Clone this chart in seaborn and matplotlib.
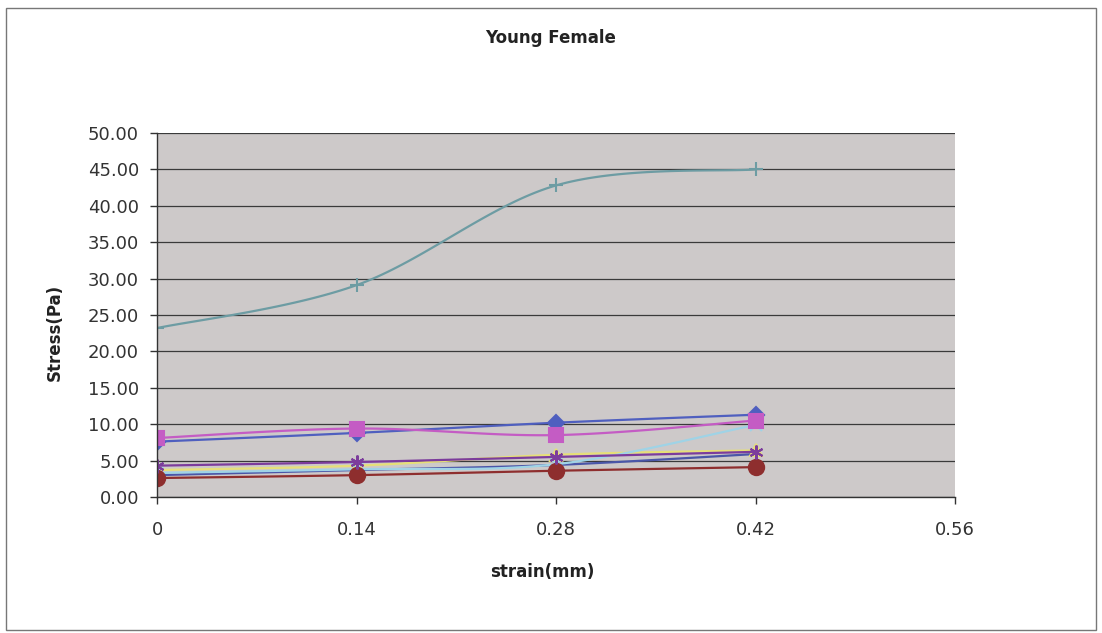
import numpy as np
import pandas as pd
import matplotlib
matplotlib.use("Agg")
import matplotlib.pyplot as plt
from matplotlib.patches import Rectangle
import seaborn as sns

# Data
strain = [0, 0.14, 0.28, 0.42]
s1_blue = [7.6, 8.8, 10.2, 11.3]
s2_magenta = [8.1, 9.4, 8.5, 10.5]
s3_yellow = [3.7, 4.3, 5.8, 6.4]
s4_cyan = [3.3, 3.8, 4.5, 9.9]
s5_purple = [4.3, 4.8, 5.5, 6.2]
s6_red = [2.6, 3.0, 3.6, 4.1]
s7_teal = [23.2, 29.1, 42.8, 45.0]
s8_navy = [3.0, 3.7, 4.4, 5.9]

x_ticks = [0, 0.14, 0.28, 0.42, 0.56]
y_ticks = [0, 5, 10, 15, 20, 25, 30, 35, 40, 45, 50]

series = [
    ("s8", s8_navy, "#4a56a8", None, 7),
    ("s3", s3_yellow, "#e6df78", "^", 8),
    ("s4", s4_cyan, "#9fd3e6", "x", 8),
    ("s6", s6_red, "#8e2e2e", "o", 11),
    ("s5", s5_purple, "#7c3c9c", (6, 2, 0), 10),
    ("s1", s1_blue, "#4f5fbf", "D", 8),
    ("s2", s2_magenta, "#c45cc4", "s", 10),
    ("s7", s7_teal, "#6d9ca3", "+", 10),
]


def smooth(xs, ys, n=40):
    # Catmull-Rom style curve, like Excel's "smoothed line"
    xs = np.asarray(xs, float)
    ys = np.asarray(ys, float)
    px = np.concatenate([[xs[0]], xs, [xs[-1]]])
    py = np.concatenate([[ys[0]], ys, [ys[-1]]])
    ox, oy = [], []
    for i in range(1, len(px) - 2):
        t = np.linspace(0, 1, n)
        for arr, out in ((px, ox), (py, oy)):
            p0, p1, p2, p3 = arr[i - 1], arr[i], arr[i + 1], arr[i + 2]
            c1 = p1 + (p2 - p0) / 6
            c2 = p2 - (p3 - p1) / 6
            out.extend((1 - t) ** 3 * p1 + 3 * (1 - t) ** 2 * t * c1
                       + 3 * (1 - t) * t ** 2 * c2 + t ** 3 * p2)
    return ox, oy


sns.set_style("white")
plt.rcParams['font.family'] = ['DejaVu Sans']

fig = plt.figure(figsize=(11.02, 6.33), dpi=100)
ax = fig.add_axes([0.1425, 0.2149, 0.7242, 0.575])
ax.set_facecolor("#cdc9c9")

for name, vals, col, mk, ms in series:
    cx, cy = smooth(strain, vals)
    sns.lineplot(x=cx, y=cy, ax=ax, color=col, linewidth=1.6, sort=False,
                 estimator=None, legend=False)
    if mk is not None:
        kw = dict(markerfacecolor=col, markeredgecolor=col)
        ax.plot(strain, vals, linestyle="none", marker=mk, markersize=ms,
                markeredgewidth=1.5, **kw)

ax.set_xlim(0, 0.56)
ax.set_ylim(0, 50)
ax.set_xticks(x_ticks)
ax.set_xticklabels(["0", "0.14", "0.28", "0.42", "0.56"])
ax.set_yticks(y_ticks)
ax.set_yticklabels([f"{v:.2f}" for v in y_ticks])
ax.yaxis.grid(True, color="#3a3a3a", linewidth=0.9)
ax.xaxis.grid(False)
ax.set_axisbelow(True)

for s in ["top", "right"]:
    ax.spines[s].set_visible(False)
for s in ["left", "bottom"]:
    ax.spines[s].set_color("#333333")
    ax.spines[s].set_linewidth(1.0)

ax.tick_params(axis="x", direction="out", length=5, width=1, color="#333333",
               pad=12, labelsize=13, labelcolor="#333333", bottom=True)
ax.tick_params(axis="y", direction="out", length=5, width=1, color="#333333",
               pad=8, labelsize=13, labelcolor="#333333", left=True)

ax.set_xlabel("strain(mm)", fontsize=12, fontweight="bold", color="#222222",
              va="center")
ax.set_ylabel("Stress(Pa)", fontsize=12, fontweight="bold", color="#222222",
              va="center")
ax.xaxis.set_label_coords(0.483, -0.206)
ax.yaxis.set_label_coords(-0.128, 0.453)
fig.text(0.5, 0.94, "Young Female", ha="center", va="center", fontsize=12,
         fontweight="bold", color="#222222")

fig.patches.append(Rectangle((0.005, 0.005), 0.99, 0.982,
                             transform=fig.transFigure, fill=False,
                             edgecolor="#777777", linewidth=1.0))

fig.savefig("out.png", dpi=100)
